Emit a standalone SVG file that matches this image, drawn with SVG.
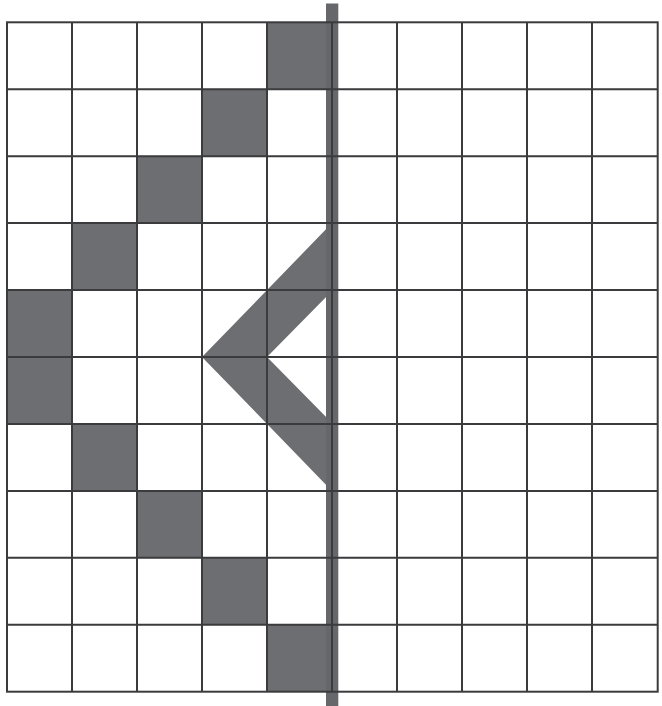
<svg xmlns="http://www.w3.org/2000/svg" width="662" height="706" viewBox="0 0 662 706">
<style>
.fill{fill:#6d6e71;stroke:none}
.grid{stroke:#3b3b3d;stroke-width:2;fill:none}
.bar{fill:#66676b}
</style>
<rect width="662" height="706" fill="#ffffff"/>
<g id="cells">
<rect class="fill" x="267" y="22.3" width="65" height="66.9"/>
<rect class="fill" x="202" y="89.2" width="65" height="67"/>
<rect class="fill" x="137" y="156.2" width="65" height="66.9"/>
<rect class="fill" x="72" y="223.1" width="65" height="66.9"/>
<rect class="fill" x="7" y="290" width="65" height="67"/>
<rect class="fill" x="7" y="357" width="65" height="67"/>
<rect class="fill" x="72" y="424" width="65" height="66.9"/>
<rect class="fill" x="137" y="490.9" width="65" height="66.9"/>
<rect class="fill" x="202" y="557.8" width="65" height="67"/>
<rect class="fill" x="267" y="624.8" width="65" height="66.9"/>
</g>
<g id="chevron">
<polygon class="fill" points="202,357 332,223.1 332,290.9 267,357 332,423.1 332,490.9"/>
</g>
<g id="bar">
<rect class="bar" x="326" y="3.5" width="12.3" height="702.5"/>
</g>
<g id="grid" class="grid">
<rect x="7" y="22.3" width="650.7" height="669.4"/>
<path d="M72,22.3V691.7M137,22.3V691.7M202,22.3V691.7M267,22.3V691.7M332,22.3V691.7M397,22.3V691.7M462,22.3V691.7M527,22.3V691.7M592,22.3V691.7"/>
<path d="M7,89.2H657.7M7,156.2H657.7M7,223.1H657.7M7,290H657.7M7,357H657.7M7,424H657.7M7,490.9H657.7M7,557.8H657.7M7,624.8H657.7"/>
</g>
</svg>
